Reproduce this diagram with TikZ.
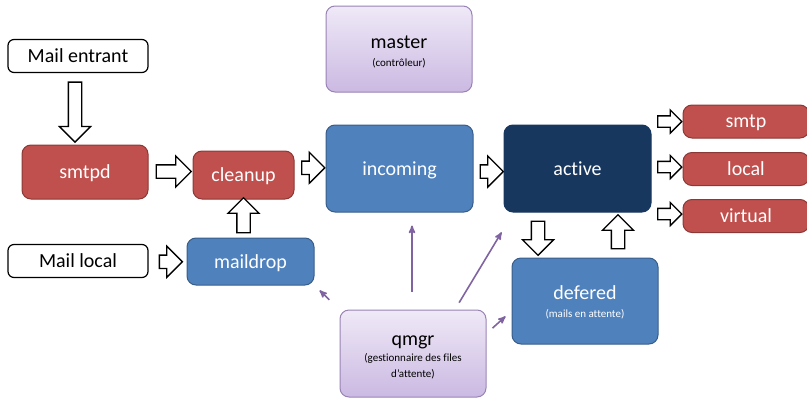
\documentclass[tikz,border=0pt]{standalone}
\usepackage{fontspec}
\setmainfont{Carlito}[Ligatures=CommonOff]
\usetikzlibrary{arrows,shapes.arrows,calc,positioning}
\definecolor{rouge}{HTML}{C0504D}
\definecolor{rougebord}{HTML}{8C3836}
\definecolor{bleu}{HTML}{4F81BD}
\definecolor{bleubord}{HTML}{385D8A}
\definecolor{marine}{HTML}{17375E}
\definecolor{violet}{HTML}{8064A2}
\definecolor{lilasclair}{HTML}{EFE9F7}
\definecolor{lilas}{HTML}{CBB9E2}
\newcommand{\petit}{\fontsize{11}{14}\selectfont}

\begin{document}
\begin{tikzpicture}[x=1pt,y=-1pt,
  every node/.style={font=\fontsize{20}{24}\selectfont,inner sep=0pt,align=center},
  boite/.style={rounded corners=9pt,line width=1pt,text depth=0pt},
  entree/.style={boite,rounded corners=6pt,draw=black,fill=white,line width=1.2pt,minimum width=140pt,minimum height=33pt},
  rouge node/.style={boite,draw=rougebord,fill=rouge,text=white},
  bleu node/.style={boite,draw=bleubord,fill=bleu,text=white},
  marine node/.style={boite,draw=marine,fill=marine,text=white},
  violet node/.style={boite,draw=violet!80,top color=lilasclair,bottom color=lilas},
  fleche/.style={single arrow,draw=black,line width=1.3pt,fill=white,inner xsep=0pt,inner ysep=6pt,minimum width=30pt,single arrow head extend=9pt},
  fleche v/.style={fleche,inner xsep=6pt,inner ysep=0pt},
  petite fleche/.style={fleche,inner ysep=5pt,minimum width=22pt,single arrow head extend=6pt,minimum height=24pt},
  lien/.style={-stealth',draw=violet,line width=1.6pt}]
  \useasboundingbox (0,0) rectangle (807,397);

  \node[entree] (entrant) at (78,56) {Mail entrant};
  \node[rouge node,minimum width=126pt,minimum height=54pt] (smtpd) at (85,172) {smtpd};
  \node[rouge node,minimum width=101pt,minimum height=48pt] (cleanup) at (243.5,175) {cleanup};
  \node[violet node,minimum width=146pt,minimum height=86pt,text height=34pt] (master) at (399,49) {master\\[-6pt]\petit (contrôleur)};
  \node[bleu node,minimum width=147pt,minimum height=87pt] (incoming) at (399.5,168.5) {incoming};
  \node[marine node,minimum width=147pt,minimum height=87pt] (active) at (577.5,168.5) {active};
  \node[rouge node,minimum width=126pt,minimum height=33pt] (smtp) at (746,121.5) {smtp};
  \node[rouge node,minimum width=126pt,minimum height=33pt] (local) [below=13.5pt of smtp] {local};
  \node[rouge node,minimum width=126pt,minimum height=33pt] (virtual) [below=13pt of local] {virtual};
  \node[entree] (mlocal) at (78,261) {Mail local};
  \node[bleu node,minimum width=127pt,minimum height=47pt] (maildrop) at (250.5,261.5) {maildrop};
  \node[bleu node,minimum width=146pt,minimum height=86pt,text height=33pt] (defered) at (585,301) {defered\\[-6pt]\petit (mails en attente)};
  \node[violet node,minimum width=146pt,minimum height=87pt,text height=47pt] (qmgr) at (413,353.5) {qmgr\\[-8pt]\petit (gestionnaire des files\\[-8pt]\petit d’attente)};

  % grosses fleches
  \node[fleche v,shape border rotate=270,minimum height=60pt] (f1) at ($(entrant.south)!0.5!(entrant.south |- smtpd.north)+(-3,0)$) {};
  \node[fleche,minimum height=35pt] (f2) at ($(smtpd.east)!0.5!(cleanup.west)+(0,-2)$) {};
  \node[fleche,minimum height=23pt] (f3) at ($(cleanup.east)!0.5!(incoming.west)+(0,-4)$) {};
  \node[fleche,minimum height=23pt] (f4) at ($(incoming.east)!0.5!(active.west)+(0,3)$) {};
  \node[fleche v,shape border rotate=90,minimum height=35pt] (f5) at ($(maildrop.north)!0.5!(maildrop.north |- cleanup.south)+(-7,0)$) {};
  \node[fleche,minimum height=23pt] (f6) at ($(mlocal.east)!0.5!(maildrop.west)+(0,0.5)$) {};
  \node[fleche v,shape border rotate=270,minimum height=34pt] (f7) at ($(active.south)!0.5!(active.south |- defered.north)+(-39.5,0)$) {};
  \node[fleche v,shape border rotate=90,minimum height=34pt] (f8) at ($(active.south)!0.5!(active.south |- defered.north)+(40.5,0)$) {};
  \node[petite fleche] (f9) at ($(active.east |- smtp)!0.5!(smtp.west)$) {};
  \node[petite fleche] (f10) at ($(active.east |- local)!0.5!(local.west)+(0,-2)$) {};
  \node[petite fleche] (f11) at ($(active.east |- virtual)!0.5!(virtual.west)+(0,-2)$) {};

  % qmgr
  \draw[lien,shorten <=14pt,shorten >=7pt] (qmgr.north west) -- (maildrop.south east);
  \draw[lien,shorten <=18pt,shorten >=13pt] ([xshift=-1pt]qmgr.north) -- ([xshift=-1pt]qmgr.north |- incoming.south);
  \draw[lien,shorten <=8pt,shorten >=23pt] ([xshift=42pt]qmgr.north) -- ([xshift=10pt]active.south west);
  \draw[lien,shorten <=8pt,shorten >=8pt] ([yshift=20pt]qmgr.east) -- ([yshift=-10pt]defered.west);
\end{tikzpicture}
\end{document}
